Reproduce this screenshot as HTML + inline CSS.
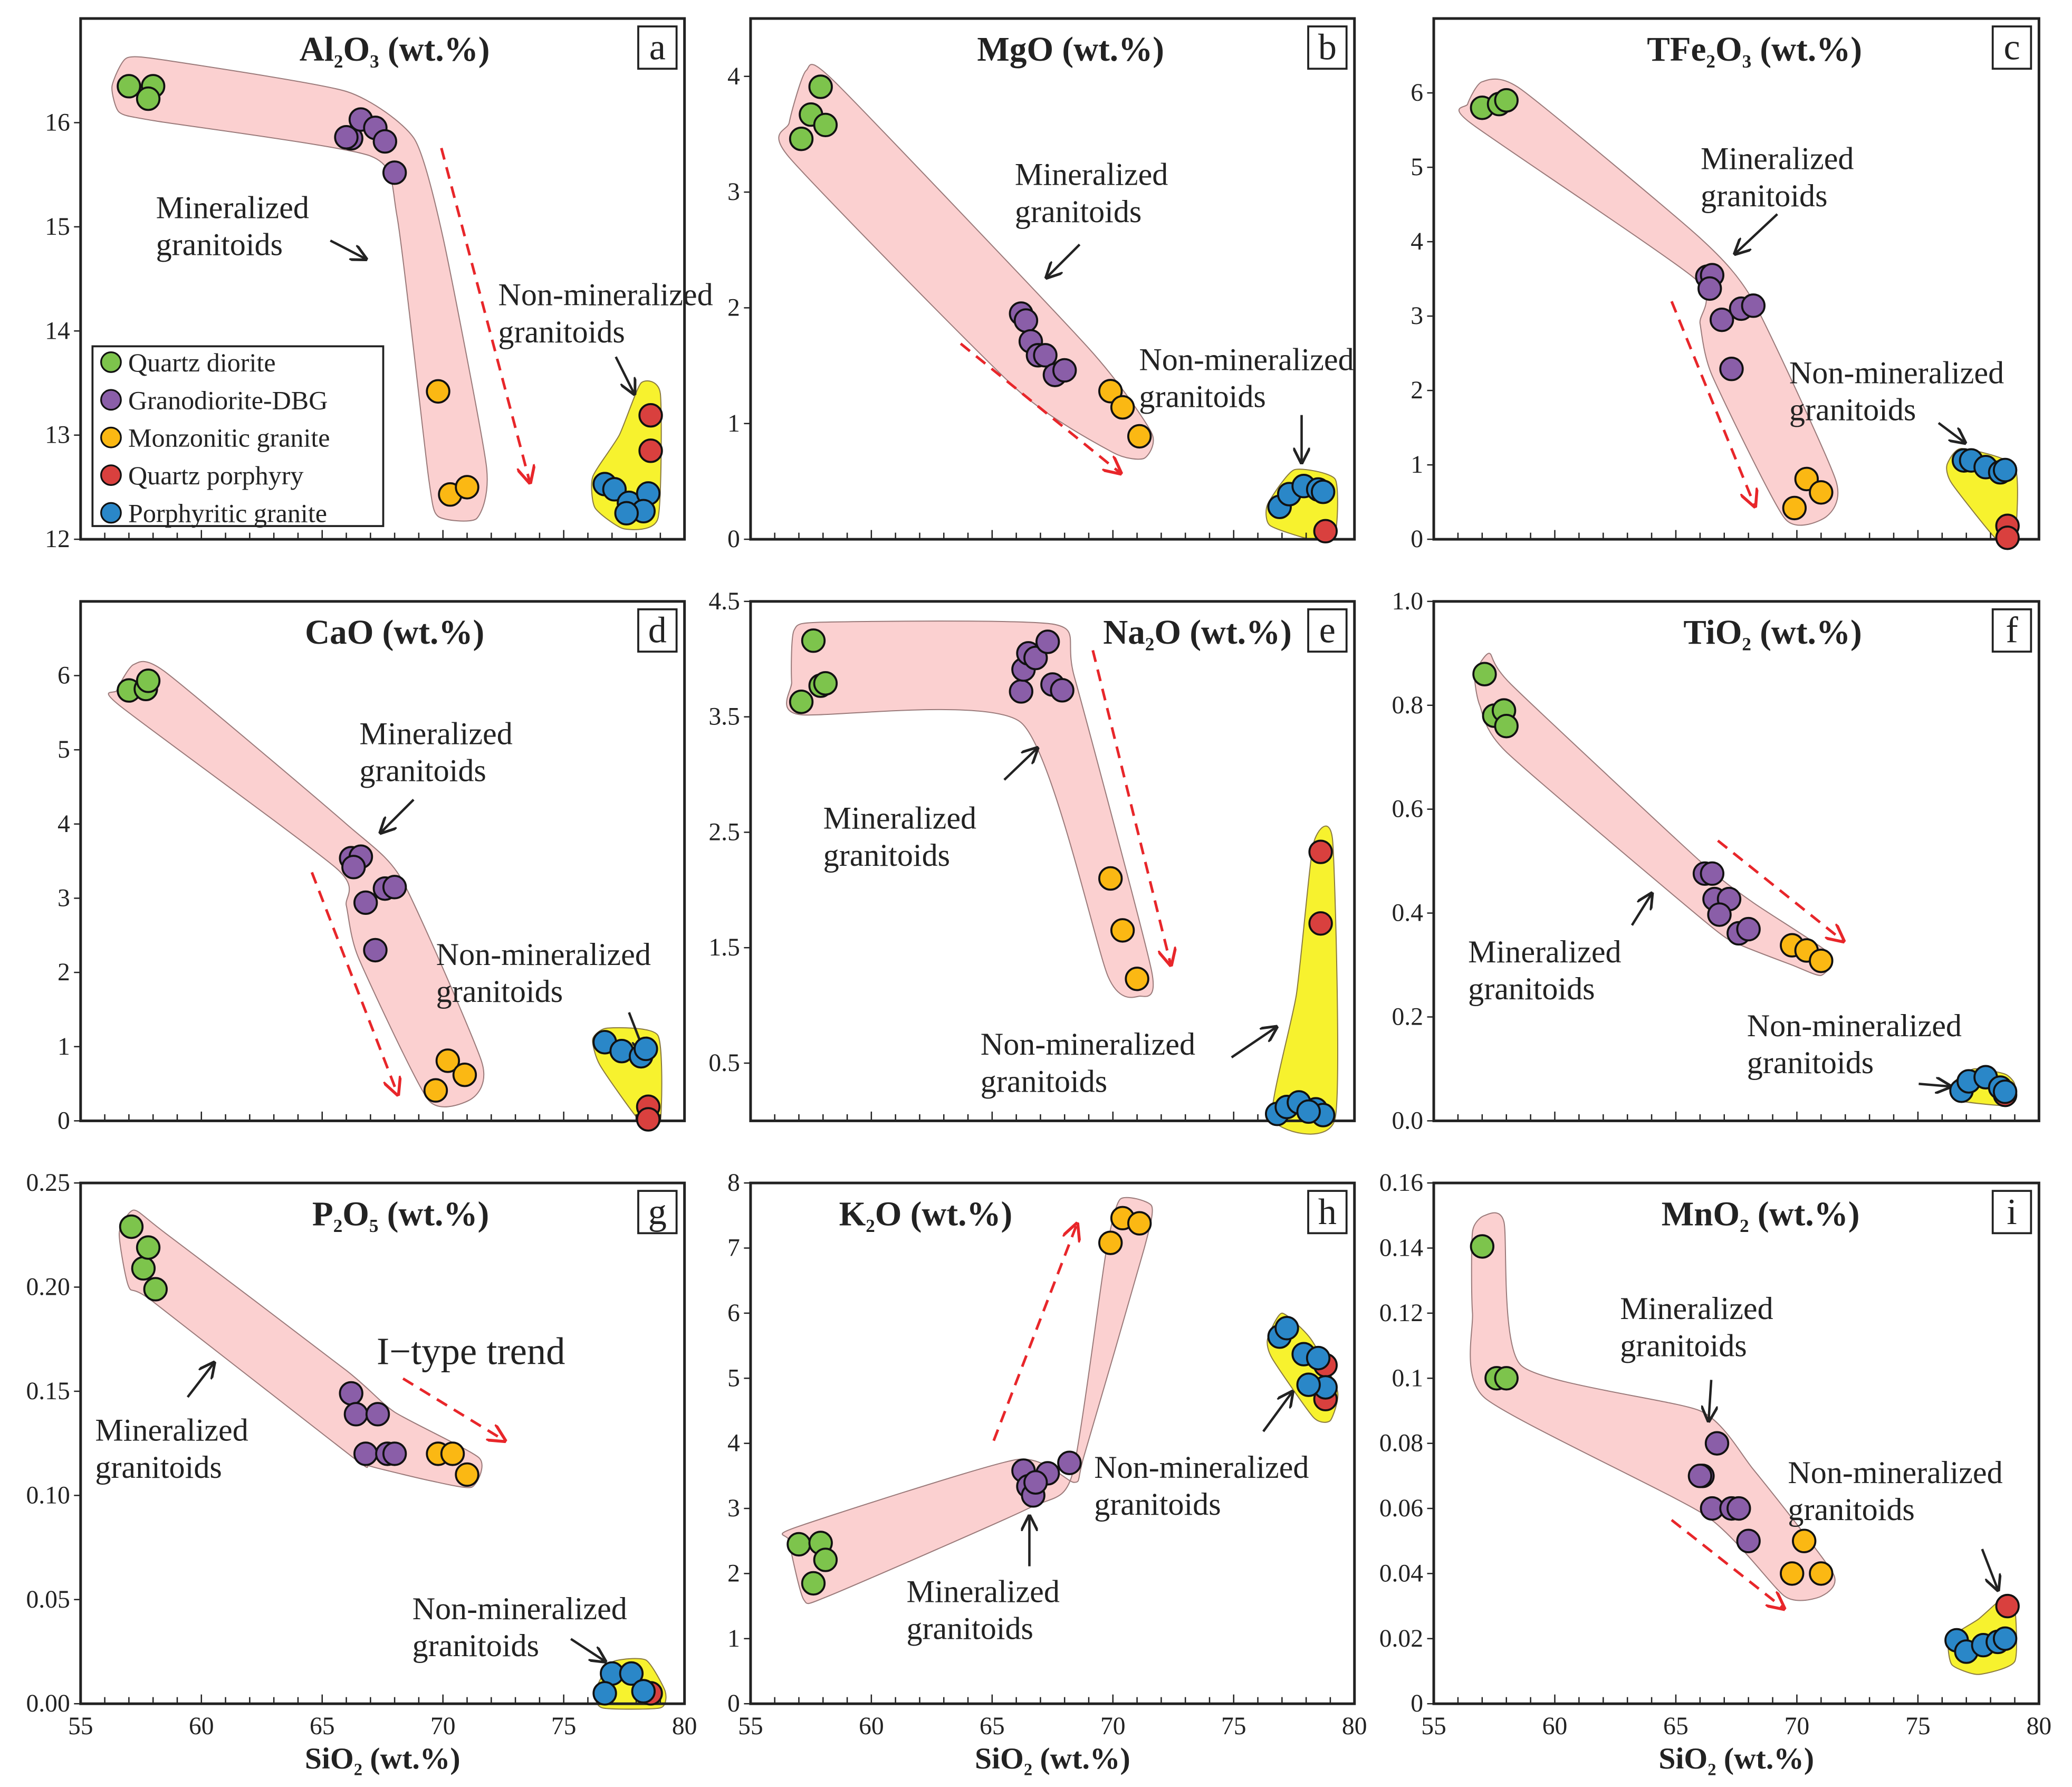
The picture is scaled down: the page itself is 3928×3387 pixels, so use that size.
<!DOCTYPE html>
<html><head><meta charset="utf-8"><style>
html,body{margin:0;padding:0;background:#fff}
svg{display:block}
svg text, svg tspan{font-family:"Liberation Serif","Times New Roman",Times,"DejaVu Serif",serif !important;fill:#222}
</style></head><body>
<svg id="fig" xmlns="http://www.w3.org/2000/svg" width="3928" height="3387" viewBox="0 0 1568 1352" preserveAspectRatio="none" style="font-family:'Liberation Serif','Times New Roman',serif">
<defs>
<marker id="ah" viewBox="0 0 10 10" refX="9" refY="5" markerWidth="7" markerHeight="7" orient="auto-start-reverse"><path d="M0,0 L10,5 L0,10" fill="none" stroke="#222" stroke-width="1.6"/></marker>
<marker id="ahr" viewBox="0 0 10 10" refX="9" refY="5" markerWidth="7" markerHeight="7" orient="auto-start-reverse"><path d="M0,0 L10,5 L0,10" fill="none" stroke="#e8262a" stroke-width="1.6"/></marker>
</defs>
</svg>
<script>
// ---- data: [SiO2, oxide] pairs per rock group ----
const siTicks = [55,60,65,70,75,80];
const groupNames = ["Quartz diorite","Granodiorite-DBG","Monzonitic granite","Quartz porphyry","Porphyritic granite"];
const groupColors = ["#7dc44c","#8a5ea8","#fbb813","#d9403e","#2a87c8"];

const al_qd=[[57.0,16.35],[58.0,16.35],[57.8,16.23]];
const al_gd=[[66.2,15.85],[66.6,16.03],[67.2,15.95],[67.6,15.82],[68.0,15.52],[66.0,15.86]];
const al_mg=[[69.8,13.42],[70.3,12.43],[71.0,12.5]];
const al_qp=[[78.6,13.19],[78.6,12.85]];
const al_pg=[[76.7,12.53],[77.1,12.48],[77.7,12.35],[78.5,12.44],[78.3,12.27],[77.6,12.25]];

const mg_qd=[[57.1,3.46],[57.5,3.67],[57.9,3.91],[58.1,3.58]];
const mg_gd=[[66.2,1.95],[66.4,1.89],[66.6,1.71],[66.9,1.59],[67.2,1.59],[67.6,1.42],[68.0,1.46]];
const mg_mg=[[69.9,1.28],[70.4,1.14],[71.1,0.89]];
const mg_qp=[[78.8,0.07]];
const mg_pg=[[76.9,0.28],[77.3,0.39],[77.9,0.46],[78.5,0.43],[78.7,0.41]];

const fe_qd=[[57.0,5.8],[57.7,5.85],[58.0,5.9]];
const fe_gd=[[66.3,3.53],[66.5,3.55],[66.4,3.37],[66.9,2.95],[67.7,3.1],[68.2,3.14],[67.3,2.29]];
const fe_mg=[[69.9,0.42],[70.4,0.81],[71.0,0.63]];
const fe_qp=[[78.7,0.18],[78.7,0.02]];
const fe_pg=[[76.9,1.06],[77.2,1.06],[77.8,0.97],[78.4,0.9],[78.6,0.93]];

const ca_qd=[[57.0,5.8],[57.7,5.82],[57.8,5.93]];
const ca_gd=[[66.2,3.54],[66.6,3.56],[66.3,3.42],[66.8,2.94],[67.6,3.13],[68.0,3.15],[67.2,2.3]];
const ca_mg=[[69.7,0.41],[70.2,0.81],[70.9,0.62]];
const ca_qp=[[78.5,0.19],[78.5,0.02]];
const ca_pg=[[76.7,1.06],[77.4,0.94],[78.2,0.87],[78.4,0.97]];

const na_qd=[[57.1,3.63],[57.6,4.16],[57.9,3.77],[58.1,3.79]];
const na_gd=[[66.2,3.72],[66.3,3.91],[66.5,4.05],[66.8,4.01],[67.3,4.15],[67.5,3.78],[67.9,3.73]];
const na_mg=[[69.9,2.10],[70.4,1.65],[71.0,1.23]];
const na_qp=[[78.6,2.33],[78.6,1.71]];
const na_pg=[[76.8,0.06],[77.2,0.12],[77.7,0.16],[78.4,0.10],[78.7,0.05],[78.1,0.08]];

const ti_qd=[[57.1,0.86],[57.5,0.78],[57.9,0.79],[58.0,0.76]];
const ti_gd=[[66.2,0.476],[66.5,0.476],[66.6,0.427],[67.2,0.427],[66.8,0.397],[67.6,0.361],[68.0,0.369]];
const ti_mg=[[69.8,0.338],[70.4,0.328],[71.0,0.308]];
const ti_qp=[[78.6,0.05]];
const ti_pg=[[76.8,0.058],[77.1,0.076],[77.8,0.084],[78.4,0.064],[78.6,0.056]];

const p_qd=[[57.1,0.229],[57.6,0.209],[57.8,0.219],[58.1,0.199]];
const p_gd=[[66.2,0.149],[66.4,0.139],[67.3,0.139],[66.8,0.12],[67.7,0.12],[68.0,0.12]];
const p_mg=[[69.8,0.12],[70.4,0.12],[71.0,0.11]];
const p_qp=[[78.6,0.005]];
const p_pg=[[77.0,0.0145],[77.8,0.0145],[78.3,0.006],[76.7,0.005]];

const k_qd=[[57.0,2.45],[57.9,2.47],[58.1,2.21],[57.6,1.85]];
const k_gd=[[66.3,3.58],[66.5,3.34],[66.7,3.2],[67.3,3.54],[68.2,3.7],[66.8,3.4]];
const k_mg=[[69.9,7.08],[70.4,7.46],[71.1,7.38]];
const k_qp=[[78.8,5.2],[78.8,4.68]];
const k_pg=[[76.9,5.64],[77.2,5.77],[77.9,5.37],[78.5,5.31],[78.8,4.86],[78.1,4.9]];

const mn_qd=[[57.0,0.1405],[57.6,0.1],[58.0,0.1]];
const mn_gd=[[66.7,0.08],[66.1,0.07],[66.5,0.06],[67.3,0.06],[67.6,0.06],[68.0,0.05],[66.0,0.07]];
const mn_mg=[[70.3,0.05],[69.8,0.04],[71.0,0.04]];
const mn_qp=[[78.7,0.03]];
const mn_pg=[[76.6,0.0195],[77.0,0.016],[77.7,0.018],[78.3,0.019],[78.6,0.02]];

const NS="http://www.w3.org/2000/svg";
const svg=document.getElementById('fig');
const FONT="font-family:'Liberation Serif','Times New Roman',Times,serif";
function el(tag,attrs,parent){const e=document.createElementNS(NS,tag);for(const k in attrs)e.setAttribute(k,attrs[k]);if(tag==='text')e.setAttribute('style',FONT);(parent||svg).appendChild(e);return e;}
function smooth(pts){
  const n=pts.length;let d='M'+pts[0][0]+','+pts[0][1];
  for(let i=0;i<n;i++){
    const p0=pts[(i-1+n)%n],p1=pts[i],p2=pts[(i+1)%n],p3=pts[(i+2)%n];
    const t=0.1;
    const c1=[p1[0]+(p2[0]-p0[0])*t,p1[1]+(p2[1]-p0[1])*t];
    const c2=[p2[0]-(p3[0]-p1[0])*t,p2[1]-(p3[1]-p1[1])*t];
    d+=' C'+c1[0]+','+c1[1]+' '+c2[0]+','+c2[1]+' '+p2[0]+','+p2[1];
  }
  return d+'Z';
}

const cols=[[61,518],[568,1025],[1085,1543]];
const rows=[[14,408],[455,848],[895,1289]];
const panels=[
 {id:'a',c:0,r:0,tx:0.52,title:['Al','2','O','3',' (wt.%)'],ymin:12,ymax:17,ticks:[12,13,14,15,16],fmt:v=>String(v),data:[al_qd,al_gd,al_mg,al_qp,al_pg],
  pink:[[56.3,16.35],[56.9,16.62],[58.5,16.6],[66,16.3],[68.8,15.85],[70,14.9],[71.8,12.7],[71.4,12.2],[69.8,12.22],[69.4,12.6],[68.1,15.1],[67,15.68],[58,16.02],[56.6,16.1]],
  yel:[[76.2,12.6],[77.3,13.0],[78.2,13.5],[79.0,13.4],[78.9,12.2],[77.5,12.1],[76.3,12.3]]},
 {id:'b',c:1,r:0,tx:0.53,title:['MgO (wt.%)'],ymin:0,ymax:4.5,ticks:[0,1,2,3,4],fmt:v=>String(v),data:[mg_qd,mg_gd,mg_mg,mg_qp,mg_pg],
  pink:[[56.6,3.6],[57.3,4.05],[58.5,3.95],[69,1.65],[71.6,0.92],[71.3,0.7],[70,0.75],[66,1.3],[56.6,3.3]],
  yel:[[76.4,0.3],[77.5,0.6],[79.2,0.52],[79.2,0.05],[78.2,0.0],[76.5,0.12]]},
 {id:'c',c:2,r:0,tx:0.53,title:['TFe','2','O','3',' (wt.%)'],ymin:0,ymax:7,ticks:[0,1,2,3,4,5,6],fmt:v=>String(v),data:[fe_qd,fe_gd,fe_mg,fe_qp,fe_pg],
  pink:[[56.4,5.85],[57,6.15],[58.6,6.05],[66,4.05],[68.2,3.2],[71.6,0.8],[71.2,0.3],[69.5,0.28],[66.5,2.2],[66,2.9],[65.8,3.5],[56.5,5.6]],
  yel:[[76.2,1.0],[76.8,1.22],[79,0.98],[79,0.0],[78.3,-0.02],[76.4,0.75]]},
 {id:'d',c:0,r:1,tx:0.52,title:['CaO (wt.%)'],ymin:0,ymax:7,ticks:[0,1,2,3,4,5,6],fmt:v=>String(v),data:[ca_qd,ca_gd,ca_mg,ca_qp,ca_pg],
  pink:[[56.5,5.8],[57.2,6.15],[58.5,6.05],[66,4.0],[68.3,3.25],[71.6,0.8],[71.2,0.3],[69.4,0.28],[66.5,2.2],[66,2.9],[65.6,3.4],[56.6,5.6]],
  yel:[[76.2,1.1],[76.8,1.25],[78.9,1.15],[79,0.0],[78.2,-0.02],[76.5,0.75]]},
 {id:'e',c:1,r:1,tx:0.74,title:['Na','2','O (wt.%)'],ymin:0,ymax:4.5,ticks:[0.5,1.5,2.5,3.5,4.5],fmt:v=>String(v),data:[na_qd,na_gd,na_mg,na_qp,na_pg],
  pink:[[56.8,4.25],[58,4.32],[67.6,4.3],[68.4,3.85],[71.6,1.3],[71.1,1.08],[69.8,1.25],[66.2,3.45],[57,3.52],[56.7,3.8]],
  yel:[[76.6,0.02],[77.6,1.1],[78.3,2.4],[79.1,2.42],[79.2,0.02]]},
 {id:'f',c:2,r:1,tx:0.56,title:['TiO','2',' (wt.%)'],ymin:0,ymax:1,ticks:[0,0.2,0.4,0.6,0.8,1.0],fmt:v=>v.toFixed(1),data:[ti_qd,ti_gd,ti_mg,ti_qp,ti_pg],
  pink:[[56.7,0.86],[57.3,0.9],[58.2,0.84],[66,0.5],[68.2,0.42],[71.4,0.32],[71,0.28],[69.8,0.3],[67.6,0.34],[66.3,0.38],[58,0.71],[56.9,0.8]],
  yel:[[76.4,0.07],[77.3,0.1],[78.6,0.09],[79.0,0.07],[78.8,0.03],[76.6,0.04]]},
 {id:'g',c:0,r:2,tx:0.53,title:['P','2','O','5',' (wt.%)'],ymin:0,ymax:0.25,ticks:[0,0.05,0.10,0.15,0.20,0.25],fmt:v=>v.toFixed(2),data:[p_qd,p_gd,p_mg,p_qp,p_pg],
  pink:[[56.6,0.226],[57.2,0.237],[58.5,0.226],[66,0.16],[68,0.14],[71.5,0.118],[71.2,0.104],[69.5,0.107],[67,0.114],[66.3,0.118],[58,0.193],[57,0.2]],
  yel:[[76.3,0.006],[77,0.02],[78.4,0.021],[79.2,0.006],[79,-0.002],[76.6,-0.002]]},
 {id:'h',c:1,r:2,tx:0.29,title:['K','2','O (wt.%)'],ymin:0,ymax:8,ticks:[0,1,2,3,4,5,6,7,8],fmt:v=>String(v),data:[k_qd,k_gd,k_mg,k_qp,k_pg],
  pink:[[56.6,2.5],[57.2,1.6],[58.2,1.65],[66.5,3.0],[68.3,3.5],[69.7,6.9],[70.3,7.75],[71.6,7.65],[71.3,7.0],[68.8,3.8],[68.4,3.4],[66,3.75],[56.8,2.7]],
  yel:[[76.4,5.6],[77.0,6.0],[78.2,5.6],[79.3,4.8],[79.0,4.35],[78.3,4.4],[76.6,5.3]]},
 {id:'i',c:2,r:2,tx:0.54,title:['MnO','2',' (wt.%)'],ymin:0,ymax:0.16,ticks:[0,0.02,0.04,0.06,0.08,0.1,0.12,0.14,0.16],fmt:v=>v===0?'0':String(+v.toFixed(2)),data:[mn_qd,mn_gd,mn_mg,mn_qp,mn_pg],
  pink:[[56.6,0.145],[57.1,0.15],[57.9,0.148],[58.6,0.104],[66,0.09],[68.2,0.072],[71.5,0.04],[71,0.033],[69.5,0.033],[66.2,0.058],[57.1,0.094],[56.6,0.12]],
  yel:[[76.3,0.02],[77.5,0.026],[78.6,0.033],[79.0,0.03],[79,0.013],[77.5,0.009],[76.4,0.012]]}
];

const notes={
 a:{m:[118,165,250,182,277,196],n:[377,231,466,270,480,298],d:[334,112,401,365]},
 b:{m:[768,140,817,185,792,210],n:[862,280,985,314,985,350],d:[727,260,848,358]},
 c:{m:[1287,128,1345,162,1313,192],n:[1354,290,1467,320,1487,335],d:[1265,228,1328,383]},
 d:{m:[272,563,313,605,288,630],n:[330,730,476,766,488,797],d:[236,660,301,828]},
 e:{m:[623,627,760,590,785,566],n:[742,798,932,800,966,777],d:[827,492,886,730]},
 f:{m:[1111,728,1235,700,1250,676],n:[1322,784,1452,820,1476,822],d:[1300,636,1395,712]},
 g:{m:[72,1090,142,1057,162,1031],n:[312,1225,432,1240,458,1257],d:[305,1043,382,1090]},
 h:{m:[686,1212,779,1185,779,1147],n:[828,1118,956,1083,978,1053],d:[752,1090,815,926]},
 i:{m:[1226,998,1295,1044,1293,1075],n:[1353,1122,1500,1172,1512,1203],d:[1265,1150,1350,1217]}
};

panels.forEach(p=>{
  const [x0,x1]=cols[p.c],[y0,y1]=rows[p.r];
  const sx=v=>x0+(v-55)/25*(x1-x0);
  const sy=v=>y1-(v-p.ymin)/(p.ymax-p.ymin)*(y1-y0);
  const g=el('g',{});
  
  
  const pk=el('path',{d:smooth(p.pink.map(d=>[sx(d[0]),sy(d[1])])),fill:'#fbd0d0',stroke:'#9a7a7a','stroke-width':0.8},g);
  
  
  const yl=el('path',{d:smooth(p.yel.map(d=>[sx(d[0]),sy(d[1])])),fill:'#f7f22e',stroke:'#8a7a40','stroke-width':0.8},g);
  
  
  const fr=el('rect',{x:x0,y:y0,width:x1-x0,height:y1-y0,fill:'none',stroke:'#222','stroke-width':2},g);
  
  
  for(let v=56;v<80;v++){
    const major=v%5===0;
    const t=el('line',{x1:sx(v),x2:sx(v),y1:y1,y2:y1-(major?7:5),stroke:'#222','stroke-width':1},g);
    
    
  }
  if(p.r===2){
    siTicks.forEach(v=>{
      const t=el('text',{x:sx(v),y:y1+23,'font-size':19,'text-anchor':'middle'},g);t.textContent=v;
      
      
    });
    const xt=el('text',{x:(x0+x1)/2,y:y1+49,'font-size':23,'font-weight':'bold','text-anchor':'middle'},g);
    xt.innerHTML='SiO<tspan font-size="13" dy="5">2</tspan><tspan dy="-5"> (wt.%)</tspan>';
    
    
  }
  p.ticks.forEach(v=>{
    const t=el('line',{x1:x0-5,x2:x0,y1:sy(v),y2:sy(v),stroke:'#222','stroke-width':1},g);
    
    
    const l=el('text',{x:x0-8,y:sy(v)+6,'font-size':19,'text-anchor':'end'},g);l.textContent=p.fmt(v);
    
    
  });
  const tt=el('text',{x:x0+(x1-x0)*p.tx,y:y0+32,'font-size':26,'font-weight':'bold','text-anchor':'middle'},g);
  let html='';p.title.forEach((s,i)=>{ if(p.title.length>1 && (i%2===1)) html+='<tspan font-size="14" dy="5">'+s+'</tspan>'; else html+='<tspan dy="'+(i>0?-5:0)+'">'+s+'</tspan>'; });
  tt.innerHTML=html;
  
  
  const lb=el('rect',{x:x1-35,y:y0+6,width:29,height:32,fill:'#fff',stroke:'#222','stroke-width':1.5},g);
  
  
  const lt=el('text',{x:x1-20.5,y:y0+31,'font-size':28,'text-anchor':'middle'},g);lt.textContent=p.id;
  
  
  const n=notes[p.id];
  [['m','Mineralized'],['n','Non-mineralized']].forEach(([k,w])=>{
    const a=n[k];
    const t1=el('text',{x:a[0],y:a[1],'font-size':24},g);t1.textContent=w;
    
    
    const t2=el('text',{x:a[0],y:a[1]+28,'font-size':24},g);t2.textContent='granitoids';
    
    
    const ar=el('line',{x1:a[2],y1:a[3],x2:a[4],y2:a[5],stroke:'#222','stroke-width':1.8,'marker-end':'url(#ah)'},g);
    
    
  });
  const d=n.d;
  const tr=el('line',{x1:d[0],y1:d[1],x2:d[2],y2:d[3],stroke:'#e8262a','stroke-width':2,'stroke-dasharray':'9 6','marker-end':'url(#ahr)'},g);
  
  
  p.data.forEach((arr,gi)=>{
    arr.forEach(pt=>{
      const c=el('circle',{cx:sx(pt[0]),cy:sy(pt[1]),r:8.5,fill:groupColors[gi],stroke:'#111','stroke-width':1.5},g);
      
      
    });
  });
});

const it=el('text',{x:285,y:1032,'font-size':29});it.textContent='I\u2212type trend';



const lg=el('g',{});


const lr=el('rect',{x:70,y:262,width:220,height:136,fill:'#fff',stroke:'#222','stroke-width':1.5},lg);


groupNames.forEach((nm,i)=>{
  const y=274+i*28.5;
  const c=el('circle',{cx:84,cy:y,r:7.5,fill:groupColors[i],stroke:'#111','stroke-width':1.3},lg);
  
  
  const t=el('text',{x:97,y:y+7,'font-size':20},lg);t.textContent=nm;
  
  
});
</script>
</body></html>
